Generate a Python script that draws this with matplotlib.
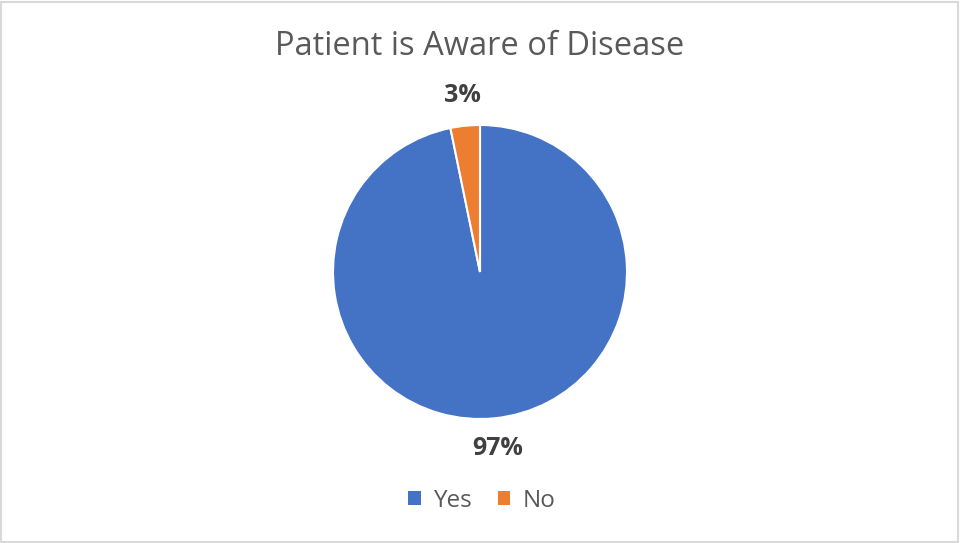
import matplotlib.pyplot as plt
from matplotlib.patches import Patch, Rectangle

# Data
categories = ['Yes', 'No']
counts = [30, 1]
colors = ['#4472C4', '#ED7D31']
title = 'Patient is Aware of Disease'

plt.rcParams['font.family'] = ['Open Sans', 'DejaVu Sans']

fig = plt.figure(figsize=(9.6, 5.43), dpi=100)

# chart border like the spreadsheet frame
fig.patches.append(Rectangle((0.001, 0.002), 0.997, 0.995, transform=fig.transFigure,
                             fill=False, edgecolor='#D9D9D9', linewidth=1.5))

ax = fig.add_axes([333 / 960, 124 / 543, 294 / 960, 294 / 543])
wedges, texts, autotexts = ax.pie(
    counts, colors=colors, startangle=90, counterclock=False,
    autopct='%.0f%%', pctdistance=1.21,
    wedgeprops=dict(edgecolor='white', linewidth=1.5))
ax.set_aspect('equal')
ax.set_xlim(-1, 1)
ax.set_ylim(-1, 1)

for t in autotexts:
    t.set_fontsize(18)
    t.set_fontweight('bold')
    t.set_color('#404040')

fig.text(0.5, 0.915, title, ha='center', va='center', fontsize=23.5, color='#595959')

handles = [Patch(facecolor=c, edgecolor='none') for c in colors]
fig.legend(handles, categories, loc='center', bbox_to_anchor=(0.502, 0.078), ncol=2,
           frameon=False, fontsize=17.5, labelcolor='#595959',
           handlelength=0.5, handleheight=0.5, handletextpad=0.5, columnspacing=1.1)

fig.savefig('out.png', dpi=100)
